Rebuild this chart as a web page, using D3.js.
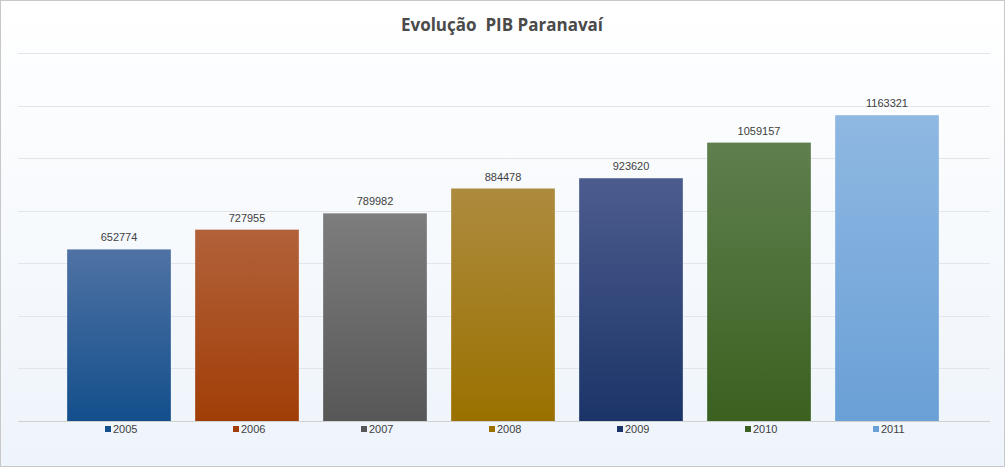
<!DOCTYPE html><html><head><meta charset="utf-8">
<script src="https://cdn.jsdelivr.net/npm/d3@7"></script>
<style>body{margin:0;background:#fff}svg{display:block}</style></head><body>
<svg id="c" width="1005" height="467"></svg>
<script>
const years=["2005","2006","2007","2008","2009","2010","2011"];
const values=[652774,727955,789982,884478,923620,1059157,1163321];
const topColors=["#4f72a3","#b2613a","#7d7d7d","#ad8b3e","#4d5c8e","#5f7f4e","#8fb8e2"];
const botColors=["#134f8c","#a13e07","#575757","#9a7100","#1b3468","#3a6120","#6aa0d6"];
const gridTicks=[0,200000,400000,600000,800000,1000000,1200000,1400000];

const svg=d3.select("#c");
const defs=svg.append("defs");
const bg=defs.append("linearGradient").attr("id","bg").attr("x1",0).attr("x2",0).attr("y1",0).attr("y2",1);
bg.append("stop").attr("offset",0).attr("stop-color","#ffffff");
bg.append("stop").attr("offset",1).attr("stop-color","#eef4fb");
svg.append("rect").attr("x",0.5).attr("y",0.5).attr("width",1004).attr("height",466).attr("fill","url(#bg)").attr("stroke","#c8c8c8");

const x=d3.scaleBand().domain(years).range([55,951]).paddingInner(0.19).paddingOuter(0.095);
const y=d3.scaleLinear().domain([0,1400000]).range([421,53]);

svg.append("g").selectAll("line").data(gridTicks).join("line")
 .attr("x1",18).attr("x2",990).attr("y1",d=>Math.round(y(d))+0.5).attr("y2",d=>Math.round(y(d))+0.5)
 .attr("stroke",d=>d===0?"#d0d0d0":"#e2e6ea");

years.forEach((yr,i)=>{
 const g=defs.append("linearGradient").attr("id","g"+i).attr("x1",0).attr("x2",0).attr("y1",0).attr("y2",1);
 g.append("stop").attr("offset",0).attr("stop-color",topColors[i]);
 g.append("stop").attr("offset",1).attr("stop-color",botColors[i]);
});
svg.append("g").selectAll("rect").data(values).join("rect")
 .attr("x",(d,i)=>x(years[i])).attr("width",x.bandwidth())
 .attr("y",d=>y(d)).attr("height",d=>y(0)-y(d)).attr("fill",(d,i)=>`url(#g${i})`);
svg.append("g").selectAll("text").data(values).join("text")
 .attr("x",(d,i)=>x(years[i])+x.bandwidth()/2).attr("y",d=>y(d)-8)
 .attr("text-anchor","middle").attr("font-family","Liberation Sans, Arial").attr("font-size",11).attr("fill","#404040").text(d=>d);

const lg=svg.append("g").selectAll("g").data(years).join("g")
 .attr("transform",d=>`translate(${x(d)+x.bandwidth()/2},429)`);
lg.append("rect").attr("x",-14).attr("y",-3).attr("width",6).attr("height",6).attr("fill",(d,i)=>botColors[i]);
lg.append("text").attr("x",-6).attr("y",4).attr("font-family","Liberation Sans, Arial").attr("font-size",11).attr("fill","#404040").text(d=>d);

svg.append("text").attr("x",502).attr("y",31).attr("text-anchor","middle").style("white-space","pre")
 .attr("font-family","Open Sans, Liberation Sans, Arial").attr("font-weight","bold").attr("font-size",17).attr("fill","#4a4a4a").text("Evolução  PIB Paranavaí");
</script></body></html>
